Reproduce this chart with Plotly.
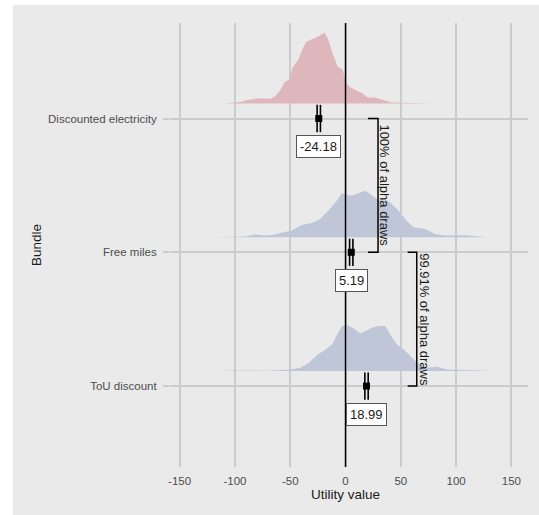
import plotly.graph_objects as go

# ---------------- data ----------------
bundles = ["Discounted electricity", "Free miles", "ToU discount"]
bundle_pos = [3, 2, 1]
means = [-24.18, 5.19, 18.99]
mean_labels = ["-24.18", "5.19", "18.99"]

# density outlines (utility value, relative density)
de_x = [-109, -94, -89.5, -79, -73, -67, -62.6, -58, -55, -50.6, -47.6, -43, -38.6, -35.6, -31, -25, -19, -16,
        -11.6, -7, -2.6, 0.4, 3.4, 9.4, 15.4, 20, 26, 32, 41, 50, 65, 80]
de_d = [0, 1.7, 3.3, 5.3, 4.7, 5, 8.3, 15, 21.7, 24, 36.7, 43.3, 55, 61.7, 64, 66.7, 71, 65,
        50, 36.7, 34, 21.7, 16.7, 13.3, 10, 6, 6, 4.3, 1.3, 0.7, 0.5, 0]

fm_x = [-121, -90.8, -81.7, -74, -66.6, -57.5, -48.5, -39.5, -30.5, -23, -15.4, -7.9, -3.4, 1.1, 5.6, 10.1,
        17.7, 22.2, 28.3, 32.8, 37.3, 41.8, 47.8, 53.8, 61.4, 72, 81, 90, 108, 120, 128]
fm_d = [0, 0.7, 2.7, 1.7, 2.3, 4.3, 6.7, 12.3, 14.3, 18.3, 26.7, 36.7, 44.3, 42.7, 41.7, 43.3,
        46.7, 43.3, 38.3, 36.7, 37.3, 33.3, 26.7, 18.3, 10, 8.3, 3.3, 1.7, 2, 0.7, 0]

tou_x = [-117.5, -100.9, -79.8, -67.8, -49.7, -40.7, -33.2, -25.6, -18.1, -12.1, -7.6, -3.1, 1.4, 7.4, 13.5,
         18, 24, 30, 36, 40.5, 46.6, 52.6, 58.6, 64.6, 73.7, 82.7, 91.7, 103.8, 121.9, 134]
tou_d = [0, 0.7, 0.7, 0.3, 1.7, 3.3, 8.3, 16, 21.7, 26.7, 36.7, 45, 46, 42.7, 37.7,
         40, 43.3, 45, 45, 36.7, 26.7, 21.7, 15, 8.3, 3.3, 4.3, 1.7, 1.3, 0.7, 0]

bracket_labels = ["100% of alpha draws", "99.91% of alpha draws"]
x_ticks = [-150, -100, -50, 0, 50, 100, 150]
x_ticktext = ["-150", "-100", "-50", "0", "50", "100", "150"]

# ---------------- style ----------------
BG = "#EAEAEA"
GRID = "#CBCBCB"
FONT = "Liberation Sans, Arial, sans-serif"
PINK = "#DEB7BD"
BLUE = "#BEC6D8"
dens_scale = 1 / 133.85   # relative density -> category units
base_off = 0.112
ci_half = 0.102
ci_dx = 1.5

fig = go.Figure()

dens = [(de_x, de_d, PINK), (fm_x, fm_d, BLUE), (tou_x, tou_d, BLUE)]
for (xs, ds, col), pos in zip(dens, bundle_pos):
    base = pos + base_off
    px = list(xs) + [xs[-1], xs[0]]
    py = [base + d * dens_scale for d in ds] + [base, base]
    fig.add_trace(go.Scatter(x=px, y=py, fill="toself", fillcolor=col, mode="lines",
                             line=dict(width=0, color=col), hoverinfo="skip", showlegend=False))

# zero line
fig.add_shape(type="line", x0=0, x1=0, xref="x", y0=0, y1=1, yref="paper",
              line=dict(color="black", width=1.5), layer="above")

# intervals
lx, ly = [], []
for m, pos in zip(means, bundle_pos):
    for dx in (-ci_dx, ci_dx):
        lx += [m + dx, m + dx, None]
        ly += [pos - ci_half, pos + ci_half, None]
fig.add_trace(go.Scatter(x=lx, y=ly, mode="lines", line=dict(color="black", width=1.6),
                         hoverinfo="skip", showlegend=False))
fig.add_trace(go.Scatter(x=means, y=bundle_pos, mode="markers",
                         marker=dict(symbol="square", size=7, color="black"),
                         hoverinfo="skip", showlegend=False))

# mean labels
for m, lab, pos in zip(means, mean_labels, bundle_pos):
    fig.add_annotation(x=m, y=pos - 0.21, text=lab, showarrow=False,
                       font=dict(family=FONT, size=13, color="#1a1a1a"),
                       bgcolor="white", bordercolor="#555555", borderwidth=1, borderpad=3)

# brackets
brackets = [(20.3, 29.4, 3, 2, 35.7), (56.2, 64.4, 2, 1, 71.9)]
for (xa, xv, ytop, ybot, xt), lab in zip(brackets, bracket_labels):
    fig.add_trace(go.Scatter(x=[xa, xv, xv, xa], y=[ytop, ytop, ybot, ybot], mode="lines",
                             line=dict(color="black", width=1.5), hoverinfo="skip", showlegend=False))
    fig.add_annotation(x=xt, y=(ytop + ybot) / 2, text=lab, textangle=90, showarrow=False,
                       xanchor="center", yanchor="middle",
                       font=dict(family=FONT, size=13, color="#1a1a1a"))

# axis titles
fig.add_annotation(x=0, xref="x", y=-0.061, yref="paper", text="Utility value", showarrow=False,
                   xanchor="center", yanchor="middle",
                   font=dict(family=FONT, size=13.5, color="#1a1a1a"))
fig.add_annotation(x=-0.374, xref="paper", y=0.5, yref="paper", text="Bundle", textangle=-90,
                   xanchor="center", yanchor="middle",
                   showarrow=False, font=dict(family=FONT, size=13.5, color="#1a1a1a"))

# white frame strips
fig.add_shape(type="rect", xref="paper", yref="paper", x0=-0.48, x1=-0.4385, y0=-0.2, y1=1.1,
              fillcolor="white", line=dict(width=0), layer="above")
fig.add_shape(type="rect", xref="paper", yref="paper", x0=-0.48, x1=1.1, y0=1.0405, y1=1.1,
              fillcolor="white", line=dict(width=0), layer="above")

fig.update_layout(
    width=539, height=515,
    margin=dict(l=170, r=11, t=23, b=48),
    paper_bgcolor=BG, plot_bgcolor=BG,
    font=dict(family=FONT),
    showlegend=False,
    xaxis=dict(range=[-158.7, 165], tickvals=x_ticks, ticktext=x_ticktext,
               showgrid=True, gridcolor=GRID, gridwidth=1.5, zeroline=False,
               ticks="", showline=False, ticklabelstandoff=5,
               tickfont=dict(family=FONT, size=11.5, color="#4D4D4D")),
    yaxis=dict(range=[0.395, 3.714], tickvals=bundle_pos, ticktext=bundles,
               showgrid=True, gridcolor=GRID, gridwidth=1.5, zeroline=False,
               ticks="outside", ticklen=6, tickcolor=GRID, tickwidth=1.5, showline=False,
               ticklabelstandoff=4,
               tickfont=dict(family=FONT, size=11.5, color="#4D4D4D")),
)

fig.write_html("out.html")
